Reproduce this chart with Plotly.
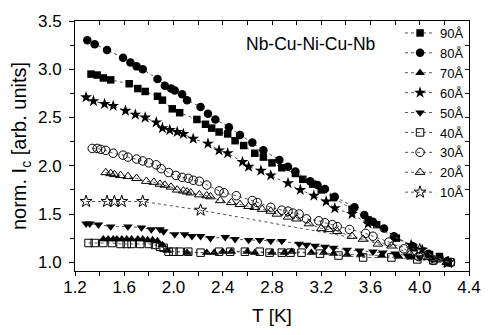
import plotly.graph_objects as go

labels = ["90Å", "80Å", "70Å", "60Å", "50Å", "40Å", "30Å", "20Å", "10Å"]

T_90 = [1.33,1.38,1.43,1.49,1.64,1.71,1.77,1.87,1.91,1.99,2.05,2.19,2.26,2.31,2.37,2.44,2.50,2.57,2.66,2.73,2.80,2.88,2.99,3.05,3.13,3.20,3.30,3.45,3.58,3.65,3.81,3.95,4.08,4.16,4.23]
I_90 = [2.95,2.94,2.91,2.89,2.85,2.80,2.77,2.72,2.68,2.59,2.55,2.48,2.43,2.39,2.35,2.33,2.26,2.21,2.13,2.09,2.03,1.98,1.92,1.86,1.81,1.75,1.67,1.55,1.44,1.39,1.25,1.15,1.08,1.06,1.00]

T_80 = [1.30,1.36,1.46,1.59,1.65,1.70,1.75,1.87,1.93,1.98,2.01,2.07,2.11,2.22,2.28,2.34,2.45,2.54,2.64,2.73,2.86,2.93,2.99,3.11,3.17,3.23,3.31,3.47,3.55,3.62,3.71,3.79,3.94,4.07,4.16,4.22]
I_80 = [3.30,3.26,3.20,3.12,3.07,3.03,3.00,2.90,2.83,2.80,2.78,2.74,2.68,2.61,2.54,2.48,2.40,2.32,2.24,2.16,2.06,1.99,1.94,1.84,1.80,1.76,1.68,1.57,1.49,1.42,1.35,1.27,1.17,1.09,1.05,1.01]

T_70 = [1.43,1.47,1.51,1.54,1.58,1.62,1.66,1.71,1.75,1.79,1.83,1.87,1.91,1.95,2.11,2.27,2.33,2.40,2.47,2.60,2.66,2.80,2.90,2.96,3.12,3.22,3.30,3.41,3.52,3.69,3.83,3.93,4.14,4.22]
I_70 = [1.24,1.24,1.24,1.24,1.24,1.24,1.24,1.24,1.24,1.23,1.23,1.22,1.18,1.12,1.10,1.10,1.10,1.11,1.11,1.11,1.10,1.10,1.10,1.11,1.10,1.10,1.09,1.08,1.08,1.07,1.06,1.05,1.02,1.00]

T_60 = [1.29,1.35,1.44,1.51,1.61,1.69,1.77,1.86,1.91,1.97,2.03,2.08,2.16,2.28,2.37,2.44,2.56,2.61,2.71,2.79,2.93,3.03,3.14,3.24,3.31,3.45,3.58,3.93,4.02,4.22]
I_60 = [2.71,2.67,2.64,2.62,2.57,2.53,2.50,2.45,2.39,2.37,2.35,2.33,2.28,2.23,2.16,2.13,2.04,1.99,1.95,1.90,1.82,1.75,1.69,1.63,1.56,1.50,1.40,1.18,1.13,1.00]

T_50 = [1.29,1.32,1.39,1.49,1.63,1.74,1.82,1.89,1.92,2.01,2.09,2.15,2.22,2.30,2.42,2.50,2.61,2.70,2.79,2.88,3.02,3.08,3.15,3.23,3.30,3.41,3.51,3.62,3.70,3.80,3.90,4.00,4.10,4.22]
I_50 = [1.40,1.40,1.39,1.37,1.37,1.36,1.34,1.34,1.32,1.29,1.29,1.27,1.27,1.25,1.26,1.24,1.23,1.23,1.22,1.22,1.19,1.18,1.17,1.16,1.15,1.13,1.12,1.11,1.10,1.09,1.07,1.05,1.03,1.00]

T_40 = [1.31,1.36,1.43,1.50,1.57,1.62,1.66,1.73,1.80,1.85,1.89,1.92,1.96,2.00,2.05,2.12,2.22,2.37,2.46,2.58,2.70,2.78,2.88,2.95,3.04,3.19,3.34,3.54,3.77,3.98,4.11,4.25]
I_40 = [1.20,1.20,1.20,1.20,1.19,1.19,1.19,1.19,1.19,1.18,1.16,1.15,1.11,1.11,1.11,1.11,1.10,1.11,1.11,1.11,1.11,1.10,1.10,1.10,1.10,1.09,1.07,1.05,1.05,1.03,1.02,1.00]

T_30 = [1.34,1.38,1.41,1.45,1.51,1.59,1.63,1.70,1.75,1.80,1.86,1.90,1.96,2.02,2.07,2.12,2.16,2.21,2.27,2.37,2.41,2.51,2.64,2.68,2.79,2.88,2.93,2.97,3.02,3.08,3.18,3.23,3.29,3.33,3.43,3.56,3.62,3.75,3.87,3.99,4.11,4.25]
I_30 = [2.18,2.18,2.17,2.16,2.13,2.11,2.09,2.07,2.05,2.03,2.01,1.97,1.93,1.90,1.88,1.87,1.85,1.84,1.80,1.74,1.72,1.69,1.64,1.62,1.57,1.54,1.53,1.51,1.50,1.45,1.43,1.41,1.39,1.37,1.34,1.30,1.27,1.21,1.14,1.06,1.02,1.00]

T_20 = [1.45,1.49,1.52,1.57,1.63,1.70,1.78,1.84,1.89,1.93,1.98,2.03,2.08,2.11,2.14,2.21,2.27,2.30,2.38,2.47,2.54,2.61,2.66,2.72,2.79,2.84,2.93,3.00,3.10,3.20,3.26,3.33,3.45,3.54,3.66,3.77,3.92,4.07,4.22]
I_20 = [1.93,1.92,1.91,1.90,1.89,1.87,1.84,1.83,1.81,1.80,1.78,1.75,1.74,1.73,1.72,1.70,1.69,1.68,1.64,1.62,1.60,1.58,1.57,1.55,1.53,1.50,1.47,1.45,1.40,1.35,1.34,1.32,1.27,1.24,1.19,1.17,1.09,1.05,1.00]

T_10 = [1.29,1.46,1.52,1.58,1.75,2.22,4.00,4.23]
I_10 = [1.63,1.63,1.63,1.63,1.63,1.54,1.13,1.00]

series_T = [T_90, T_80, T_70, T_60, T_50, T_40, T_30, T_20, T_10]
series_I = [I_90, I_80, I_70, I_60, I_50, I_40, I_30, I_20, I_10]
symbols = ["square", "circle", "triangle-up", "star", "triangle-down",
           "square-open", "circle-open", "triangle-up-open", "star-open"]
sizes = [7.5, 8.5, 8.5, 9, 8.5, 7.5, 8.5, 8.5, 9]

FONT = "Liberation Sans, Arial, Helvetica, sans-serif"

fig = go.Figure()
for lab, xs, ys, sym, sz in zip(labels, series_T, series_I, symbols, sizes):
    open_ = sym.endswith("open")
    fig.add_trace(go.Scatter(
        x=xs, y=ys, name=lab, mode="lines+markers",
        line=dict(color="#555555", width=1, dash="dot"),
        marker=dict(symbol=sym, size=sz, color="black",
                    line=dict(color="black", width=1 if open_ else 0)),
    ))

# helper trace for the mirrored inner ticks on top/right
fig.add_trace(go.Scatter(x=[None], y=[None], xaxis="x2", yaxis="y2",
                         showlegend=False, hoverinfo="skip"))

xr = [1.2, 4.4]
yr = [0.91, 3.5]

fig.update_layout(
    width=493, height=335,
    margin=dict(l=75, r=24, t=13, b=62),
    paper_bgcolor="white", plot_bgcolor="white",
    font=dict(family=FONT, color="black"),
    xaxis=dict(range=xr, tick0=1.2, dtick=0.4, tickformat=".1f",
               ticks="outside", ticklen=4, tickwidth=1, tickcolor="black",
               minor=dict(dtick=0.2, ticks="outside", ticklen=4, tickcolor="black"),
               showline=True, linecolor="black", linewidth=1, mirror=True,
               showgrid=False, zeroline=False,
               tickfont=dict(size=17), ticklabelstandoff=-3, ticklabeloverflow="allow",
               title=dict(text="T [K]", font=dict(size=19), standoff=12)),
    yaxis=dict(range=yr, tick0=1.0, dtick=0.5, tickformat=".1f",
               ticks="outside", ticklen=5, tickwidth=1, tickcolor="black",
               minor=dict(dtick=0.25, tick0=1.0, ticks="outside", ticklen=4, tickcolor="black"),
               showline=True, linecolor="black", linewidth=1, mirror=True,
               showgrid=False, zeroline=False,
               tickfont=dict(size=17), ticklabelstandoff=4, ticklabeloverflow="allow",
               title=dict(text="norm. I<sub>c</sub> [arb. units]", font=dict(size=20), standoff=5)),
    xaxis2=dict(range=xr, overlaying="x", side="top", anchor="y", tick0=1.2, dtick=0.2,
                ticks="inside", ticklen=4, tickcolor="black", showticklabels=False,
                showgrid=False, zeroline=False, showline=False),
    yaxis2=dict(range=yr, overlaying="y", side="right", anchor="x", tick0=1.0, dtick=0.25,
                ticks="inside", ticklen=4, tickcolor="black", showticklabels=False,
                showgrid=False, zeroline=False, showline=False),
    legend=dict(x=0.825, y=1.012, xanchor="left", yanchor="top",
                font=dict(size=13), bgcolor="rgba(0,0,0,0)",
                itemwidth=30, tracegroupgap=0, maxheight=1),
    showlegend=True,
    annotations=[dict(text="Nb-Cu-Ni-Cu-Nb", x=0.597, y=0.906, xref="paper", yref="paper",
                      showarrow=False, font=dict(size=17.5), xanchor="center", yanchor="middle")],
)

fig.write_html("out.html", config={"displayModeBar": False},
               post_script="document.body.style.margin='0px';document.body.style.padding='0px';")
